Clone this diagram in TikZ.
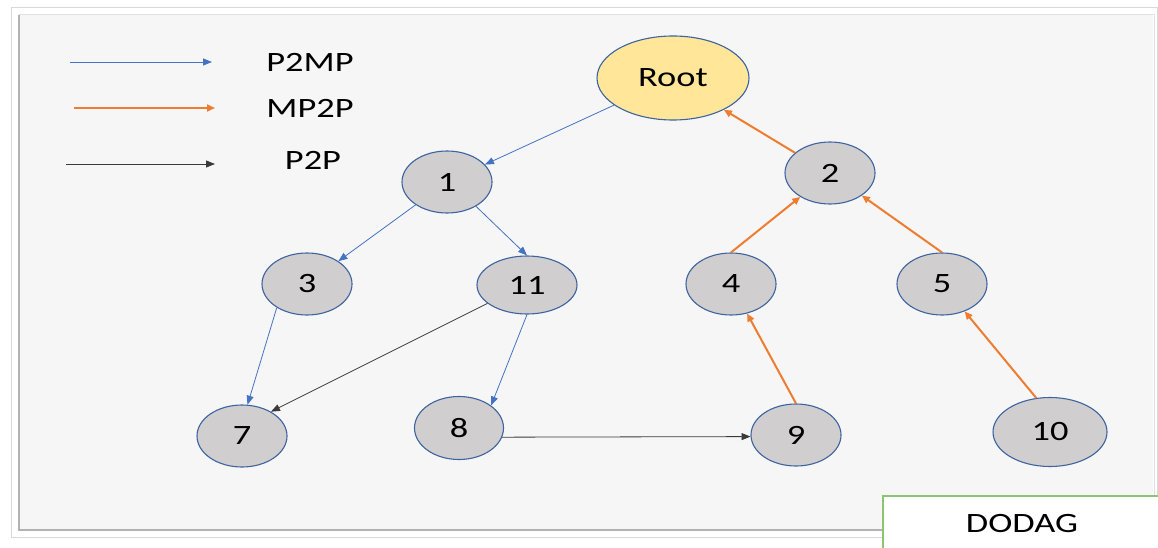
\documentclass[tikz,border=0pt]{standalone}
\usepackage{fontspec}
\setmainfont{Carlito}
\usepackage{graphicx}
\usetikzlibrary{shapes.geometric,arrows.meta}
\definecolor{panelbg}{HTML}{F6F6F6}
\definecolor{nodefill}{HTML}{D0CECE}
\definecolor{nodeedge}{HTML}{3D63A0}
\definecolor{rootfill}{HTML}{FFE699}
\definecolor{pblue}{HTML}{4472C4}
\definecolor{porange}{HTML}{ED7D31}
\definecolor{pblack}{HTML}{3A3A3A}
\definecolor{pgreen}{HTML}{8CC474}
\newcommand{\wtxt}[1]{\scalebox{1.3}[1]{#1}}
\tikzset{
  x=1pt, y=-1pt,
  every node/.style={font=\fontsize{28}{30}\selectfont},
  dnode/.style={ellipse, draw=nodeedge, line width=1.1pt, fill=nodefill, inner sep=0pt, minimum width=90pt, minimum height=62pt},
  rootnode/.style={dnode, fill=rootfill, minimum width=152pt, minimum height=84pt},
  p2mp/.style={draw=pblue, line width=0.8pt, -{Triangle[length=9pt,width=7pt]}},
  mp2p/.style={draw=porange, line width=2pt, -{Triangle[length=8pt,width=7pt]}},
  p2p/.style={draw=pblack, line width=0.8pt, -{Triangle[length=9pt,width=7pt]}},
  legtext/.style={text=black}
}
\begin{document}
\begin{tikzpicture}
\useasboundingbox (0,0) rectangle (1158,548);
\clip (0,0) rectangle (1158,548);
\fill[white] (0,0) rectangle (1158,548);
% panel
\draw[draw=black!15, fill=white, line width=0.8pt] (11,7) rectangle (1157,537);
\fill[panelbg] (19,15) rectangle (1153,530);
\draw[draw=black!12, line width=1pt] (19,530) -- (19,15) -- (1154,15) -- (1154,530);
\draw[draw=black!30, line width=2.2pt] (19,15) -- (19,530) -- (1154,530);
% legend
\coordinate (l1a) at (70,62); \coordinate (l1b) at (212,62);
\coordinate (l2a) at (74,108); \coordinate (l2b) at (215,108);
\coordinate (l3a) at (66,164); \coordinate (l3b) at (215,164);
\draw[p2mp] (l1a) -- (l1b);
\draw[mp2p] (l2a) -- (l2b);
\draw[p2p] (l3a) -- (l3b);
\node[legtext] (t1) at (310,62) {\wtxt{P2MP}};
\node[legtext] (t2) at (310,108) {\wtxt{MP2P}};
\node[legtext] (t3) at (313,160) {\wtxt{P2P}};
% nodes
\node[rootnode] (root) at (673,78) {\wtxt{Root}};
\node[dnode] (n1) at (447,182) {\wtxt{1}};
\node[dnode] (n2) at (830,173) {\wtxt{2}};
\node[dnode] (n3) at (307,284) {\wtxt{3}};
\node[dnode, minimum width=100pt, minimum height=58pt] (n11) at (527,285) {\wtxt{11}};
\node[dnode] (n4) at (731,284) {\wtxt{4}};
\node[dnode] (n5) at (942,284) {\wtxt{5}};
\node[dnode] (n7) at (242,436) {\wtxt{7}};
\node[dnode, minimum width=89pt, minimum height=63pt] (n8) at (459,428) {\wtxt{8}};
\node[dnode] (n9) at (796,435) {\wtxt{9}};
\node[dnode, minimum width=114pt, minimum height=69pt] (n10) at (1050,432) {\wtxt{10}};
% edges
\draw[p2mp] (root) -- (n1);
\draw[p2mp] (n1) -- (n3);
\draw[p2mp] (n1.-40) -- (n11.north);
\draw[p2mp] (n3.218) -- (n7.80);
\draw[p2mp] (n11.south) -- (n8.35);
\draw[p2p] (n11.205) -- (n7.40);
\draw[p2p] (n8.-12) -- (n9.182);
\draw[mp2p] (n2.150) -- (root.-32);
\draw[mp2p] (n4.north) -- (n2);
\draw[mp2p] (n5.north) -- (n2);
\draw[mp2p] (n9.north) -- (n4);
\draw[mp2p] (n10.112) -- (n5);
% DODAG label
\node[draw=pgreen, line width=1.5pt, fill=white, minimum width=290pt, minimum height=62pt, anchor=north west, inner sep=0pt] (dodag) at (882,495) {};
\node (dodagt) at (1022,524) {\wtxt{DODAG}};
\end{tikzpicture}
\end{document}
